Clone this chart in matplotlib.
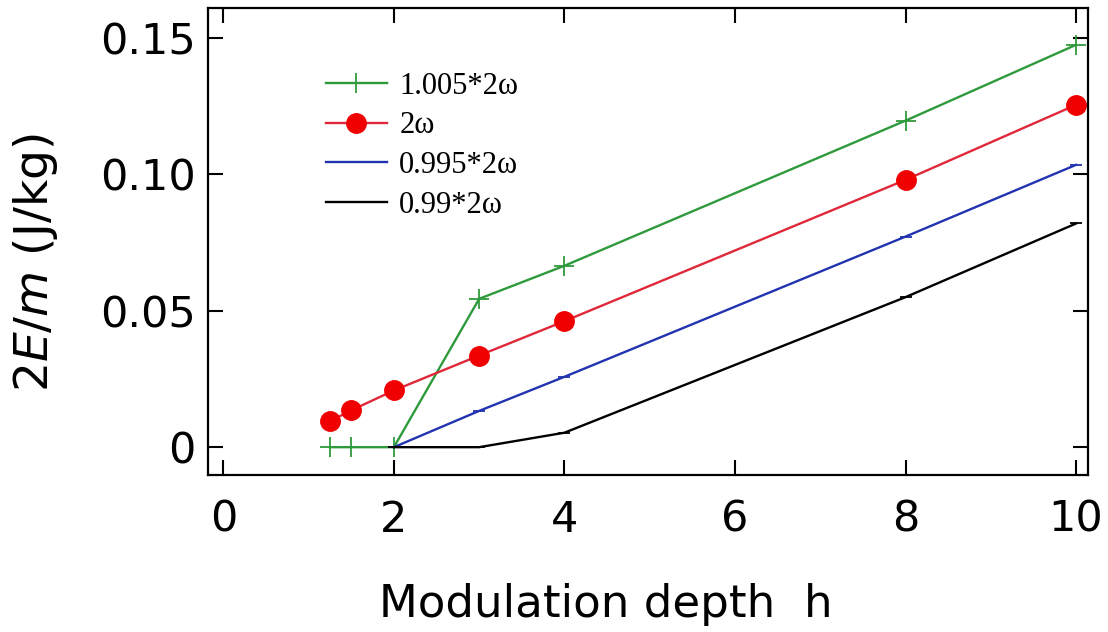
import numpy as np
import matplotlib
matplotlib.use("Agg")
import matplotlib.pyplot as plt

# modulation depth h
h_green = [1.25, 1.5, 2, 3, 4, 8, 10]
e_green = [0.0, 0.0, 0.0, 0.0544, 0.0665, 0.1197, 0.1475]

h_red = [1.25, 1.5, 2, 3, 4, 8, 10]
e_red = [0.0095, 0.0135, 0.0208, 0.0336, 0.0462, 0.0980, 0.1255]

h_blue = [2, 3, 4, 8, 10]
e_blue = [0.0, 0.0133, 0.0258, 0.0772, 0.1035]

h_black = [2, 3, 4, 8, 10]
e_black = [0.0, 0.0, 0.0053, 0.0550, 0.0820]

labels = ["1.005*2\u03c9", "2\u03c9", "0.995*2\u03c9", "0.99*2\u03c9"]
xticks = [0, 2, 4, 6, 8, 10]
yticks = [0, 0.05, 0.10, 0.15]
yticklabels = ["0", "0.05", "0.10", "0.15"]

plt.rcParams['font.family'] = ['DejaVu Sans']

fig = plt.figure(figsize=(11.08, 6.32), dpi=100)
ax = fig.add_axes([208 / 1108, 157 / 632, 880 / 1108, 467 / 632])

ax.plot(h_green, e_green, color='#2f9a3c', lw=1.7, marker='+', ms=14, mew=1.3, label=labels[0])
ax.plot(h_red, e_red, color='#e0283a', lw=1.7, marker='o', ms=14, mfc='#f00000', mec='#f00000', label=labels[1])
ax.plot(h_blue, e_blue, color='#2233b0', lw=1.7, marker='_', ms=9, mew=1.3, label=labels[2])
ax.plot(h_black, e_black, color='black', lw=1.7, marker='_', ms=9, mew=1.3, label=labels[3])

ax.set_xlim(-0.18, 10.14)
ax.set_ylim(-0.0102, 0.161)
ax.set_xticks(xticks)
ax.set_yticks(yticks)
ax.set_yticklabels(yticklabels)

ax.tick_params(direction='in', top=True, right=True, length=11, width=1.5, labelsize=31)
ax.tick_params(axis='x', pad=17)
ax.tick_params(axis='y', pad=9)
for s in ax.spines.values():
    s.set_linewidth(1.6)

ax.set_xlabel("Modulation depth  h", fontsize=32.5)
ax.xaxis.set_label_coords(0.452, -0.232)
ax.set_ylabel("2$\\it{E}$/$\\it{m}$ (J/kg)", fontsize=34)
ax.yaxis.set_label_coords(-0.168, 0.455)

leg = ax.legend(loc='upper left', bbox_to_anchor=(0.12, 0.89), frameon=False,
                prop={'family': ['Liberation Serif', 'DejaVu Serif'], 'size': 22},
                handlelength=2.0, handletextpad=0.4, labelspacing=0.35, borderaxespad=0)

fig.savefig("out.png", dpi=100)
